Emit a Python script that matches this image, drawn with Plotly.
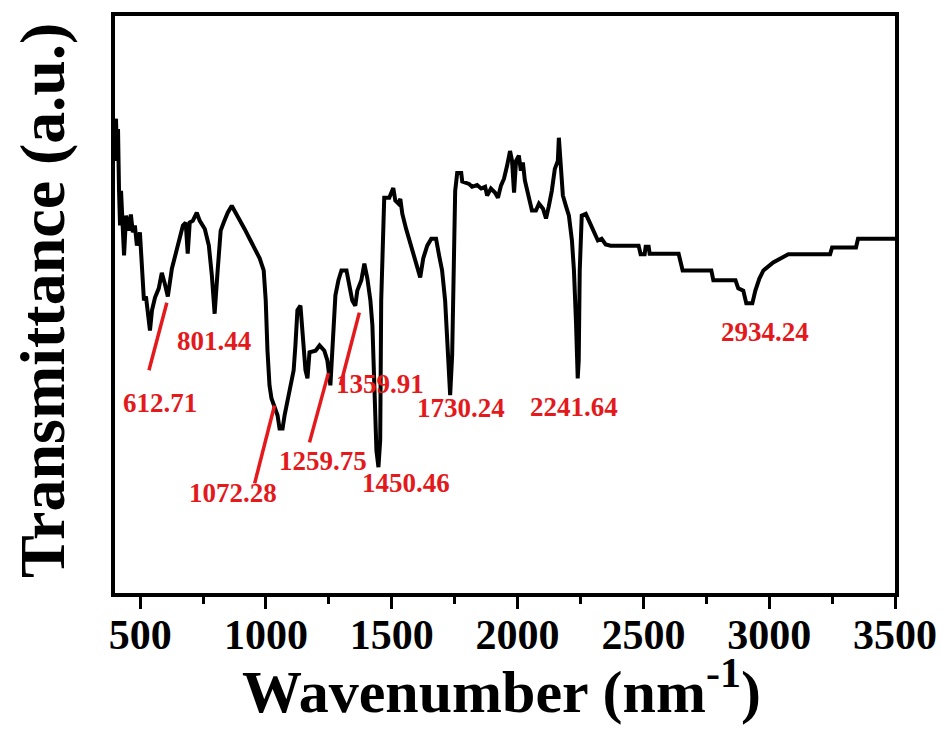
import plotly.graph_objects as go

# FTIR spectrum (wavenumber, transmittance in a.u.)
wavenumber = [400, 404, 408, 412, 416, 420, 424, 428, 436, 444, 455, 463, 471, 479, 487, 499,
              507, 515, 523, 531, 539, 547, 559, 574, 586, 598, 610, 626, 642, 658, 670, 681,
              689, 697, 709, 725, 737, 757, 773, 785, 796, 808, 820, 832, 848, 864, 880, 896,
              915, 935, 955, 975, 991, 999, 1006, 1014, 1022, 1034, 1046, 1054, 1066, 1074,
              1086, 1098, 1110, 1117, 1125, 1137, 1145, 1157, 1165, 1173, 1197, 1213, 1232,
              1244, 1256, 1264, 1276, 1288, 1300, 1320, 1332, 1343, 1355, 1363, 1379, 1391,
              1403, 1415, 1423, 1431, 1439, 1447, 1454, 1458, 1462, 1470, 1490, 1506, 1514,
              1526, 1534, 1542, 1557, 1573, 1589, 1605, 1613, 1625, 1641, 1657, 1676, 1688,
              1700, 1712, 1720, 1728, 1732, 1740, 1744, 1752, 1760, 1776, 1780, 1807, 1819,
              1839, 1855, 1871, 1879, 1894, 1910, 1922, 1934, 1946, 1958, 1970, 1978, 1986,
              1994, 2005, 2013, 2021, 2029, 2041, 2057, 2073, 2085, 2101, 2113, 2124, 2136,
              2148, 2160, 2164, 2172, 2180, 2192, 2204, 2216, 2224, 2232, 2239, 2243, 2247,
              2255, 2271, 2287, 2303, 2319, 2334, 2350, 2370, 2481, 2489, 2505, 2509, 2521,
              2525, 2640, 2656, 2770, 2778, 2866, 2877, 2897, 2909, 2933, 2945, 2961, 2977,
              3016, 3076, 3242, 3250, 3345, 3353, 3500]
transmittance = [81.0, 82.2, 74.9, 80.4, 69.7, 63.7, 69.7, 64.2, 58.5, 65.4, 62.8, 65.6, 62.5,
                 63.7, 60.2, 62.5, 55.9, 50.7, 51.4, 49.0, 45.5, 49.0, 51.2, 52.8, 55.5, 53.6,
                 51.4, 56.2, 59.0, 61.6, 63.7, 64.2, 58.8, 64.2, 64.5, 65.9, 64.5, 63.1, 60.2,
                 55.0, 48.4, 55.9, 62.8, 64.2, 65.9, 67.1, 65.9, 64.5, 63.1, 61.4, 59.7, 58.0,
                 55.9, 50.7, 42.0, 36.0, 33.7, 32.0, 30.8, 28.5, 28.5, 30.8, 33.4, 36.0, 38.6,
                 42.9, 49.0, 49.8, 45.5, 38.6, 37.2, 41.7, 42.0, 42.9, 42.0, 40.3, 36.0, 42.9,
                 51.6, 54.2, 55.9, 55.9, 53.3, 50.7, 49.8, 52.4, 54.2, 57.1, 54.5, 50.7, 46.4,
                 35.1, 24.7, 21.8, 26.5, 50.7, 56.7, 68.5, 68.5, 70.2, 68.0, 67.5, 68.3, 65.7,
                 63.1, 60.7, 58.3, 55.5, 54.7, 58.0, 60.2, 61.4, 61.4, 58.5, 55.9, 50.7, 42.9,
                 36.0, 34.3, 41.2, 50.7, 69.7, 72.8, 72.8, 71.3, 70.9, 70.4, 70.7, 70.1, 70.4,
                 68.9, 70.1, 69.4, 68.5, 70.6, 71.8, 74.0, 76.6, 74.9, 69.4, 74.9, 75.8, 73.2,
                 74.6, 71.5, 68.9, 66.3, 66.3, 67.5, 66.6, 64.9, 67.0, 69.7, 73.5, 74.9, 78.9,
                 73.2, 68.9, 67.1, 65.4, 61.1, 55.9, 47.2, 37.2, 40.3, 55.9, 65.4, 65.7, 64.2,
                 62.5, 61.1, 61.4, 60.4, 60.2, 60.2, 58.7, 58.7, 60.0, 60.0, 58.8, 58.8, 55.9,
                 55.9, 54.2, 54.2, 52.8, 52.4, 50.2, 50.2, 52.4, 54.5, 55.9, 57.3, 58.7, 58.7,
                 59.9, 59.9, 61.4, 61.4]

# Peak labels (text, label centre x/y in data units)
peak_labels = ["612.71", "801.44", "1072.28", "1259.75", "1359.91",
               "1450.46", "1730.24", "2241.64", "2934.24"]
label_x = [578, 792, 868, 1228, 1454, 1557, 1776, 2223, 2985]
label_y = [33.0, 43.6, 17.3, 22.8, 36.3, 19.0, 32.0, 32.2, 45.3]

# Pointer lines (x0, y0, x1, y1) in data units
pointer_x0 = [606, 1034, 1248, 1371]
pointer_y0 = [50.3, 32.5, 38.1, 48.6]
pointer_x1 = [535, 955, 1173, 1296]
pointer_y1 = [38.6, 19.0, 26.1, 36.0]

x_ticks = [500, 1000, 1500, 2000, 2500, 3000, 3500]

RED = "#e3191c"
FONT = "Liberation Serif"

fig = go.Figure()
fig.add_trace(go.Scatter(x=wavenumber, y=transmittance, mode="lines",
                         line=dict(color="black", width=4), showlegend=False,
                         hoverinfo="skip"))

for t, lx, ly in zip(peak_labels, label_x, label_y):
    fig.add_annotation(x=lx, y=ly, text="<b>%s</b>" % t, showarrow=False,
                       font=dict(family=FONT, size=27, color=RED),
                       xanchor="center", yanchor="middle")

for a, b, c, d in zip(pointer_x0, pointer_y0, pointer_x1, pointer_y1):
    fig.add_shape(type="line", x0=a, y0=b, x1=c, y1=d,
                  line=dict(color=RED, width=3.5))

# Axis titles
fig.add_annotation(xref="paper", yref="paper", x=0.496, y=-0.164,
                   text="<b>Wavenumber (nm<sup>-1</sup>)</b>", showarrow=False,
                   xanchor="center", yanchor="middle",
                   font=dict(family=FONT, size=60, color="black"))
fig.add_annotation(xref="paper", yref="paper", x=-0.093, y=0.507,
                   text="<b>Transmittance (a.u.)</b>", showarrow=False, textangle=-90,
                   xanchor="center", yanchor="middle",
                   font=dict(family=FONT, size=64, color="black"))

fig.update_layout(
    width=949, height=738,
    margin=dict(l=115, r=52, t=15, b=145),
    paper_bgcolor="white", plot_bgcolor="white",
    font=dict(family=FONT, color="black"),
)
fig.update_xaxes(
    range=[400, 3500], tickvals=x_ticks, ticktext=[str(v) for v in x_ticks],
    ticks="outside", ticklen=12, tickwidth=3, tickcolor="black",
    ticklabelstandoff=-10,
    minor=dict(tickvals=[750, 1250, 1750, 2250, 2750, 3250], ticks="outside",
               ticklen=7, tickwidth=3, tickcolor="black"),
    showline=True, linewidth=3.5, linecolor="black", mirror=True,
    showgrid=False, zeroline=False,
    tickfont=dict(family=FONT, size=42, color="black", weight="bold"),
)
fig.update_yaxes(
    range=[0, 100], showticklabels=False, ticks="",
    showline=True, linewidth=3.5, linecolor="black", mirror=True,
    showgrid=False, zeroline=False,
)

fig.write_html("out.html")
